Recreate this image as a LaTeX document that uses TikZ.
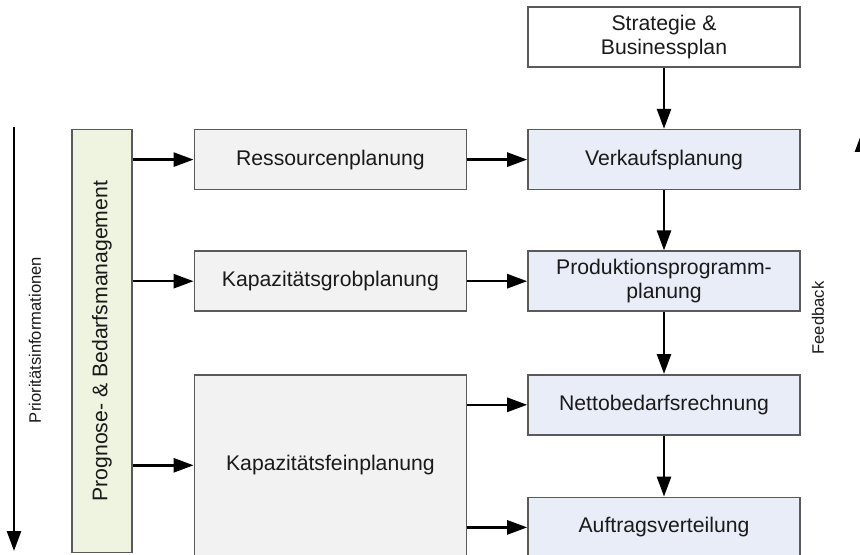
\documentclass[tikz,border=0pt]{standalone}
\usepackage{fontspec}
\setmainfont{Liberation Sans}
\usetikzlibrary{positioning, arrows.meta}
\definecolor{boxline}{HTML}{5A5A5A}
\definecolor{grayfill}{HTML}{F2F2F2}
\definecolor{bluefill}{HTML}{E9EDF7}
\definecolor{greenfill}{HTML}{EEF4E0}
\definecolor{txt}{HTML}{1A1A1A}

\begin{document}
\begin{tikzpicture}
\tikzset{block/.style={rectangle,draw=boxline,line width=0.8pt,text=txt,align=center,minimum width=136pt,minimum height=30pt,inner sep=2pt,font=\fontsize{10.6}{12.2}\selectfont},
  plan/.style={block,fill=grayfill},
  ctrl/.style={block,fill=bluefill},
  arr/.style={line width=1.3pt,-{Triangle[length=10pt,width=7pt]}},
  side/.style={text=txt,font=\fontsize{8.3}{10}\selectfont}}

\useasboundingbox (0,0) rectangle (430pt,-277.5pt);

  \node [block] (strategie) at (332pt,-18.5pt) {Strategie \&\\Businessplan};
  \node [ctrl, below=30.5pt of strategie] (verkauf) {Verkaufsplanung};
  \node [ctrl, below=30pt of verkauf] (produktion) {Produktionsprogramm-\\planung};
  \node [ctrl, below=31pt of produktion] (netto) {Nettobedarfsrechnung};
  \node [ctrl, below=30.5pt of netto] (auftrag) {Auftragsverteilung};

  \node [plan, left=30pt of verkauf] (ressourcen) {Ressourcenplanung};
  \node [plan, left=30pt of produktion] (grob) {Kapazitätsgrobplanung};
  \node [plan, minimum height=90.5pt, below left=0pt and 30pt of netto.north west] (fein) {Kapazitätsfeinplanung};

  \node [block, fill=greenfill, minimum width=30pt, minimum height=211.5pt, below left=0pt and 30.5pt of ressourcen.north west] (prognose) {\rotatebox{90}{Prognose- \& Bedarfsmanagement}};

\draw [arr] (strategie) -- (verkauf);
\draw [arr] (verkauf) -- (produktion);
\draw [arr] (produktion) -- (netto);
\draw [arr] (netto) -- (auftrag);

\draw [arr] (prognose.east |- ressourcen) -- (ressourcen);
\draw [arr] (prognose.east |- grob) -- (grob);
\draw [arr] (prognose.east |- fein) -- (fein);
\draw [arr] (ressourcen) -- (verkauf);
\draw [arr] (grob) -- (produktion);
\draw [arr] (fein.east |- netto) -- (netto);
\draw [arr] (fein.east |- auftrag) -- (auftrag);

% Prioritaet nach unten, Feedback nach oben
\coordinate (prio-start) at (7pt,-63.5pt);
\coordinate (prio-end) at (7pt,-275.5pt);
\draw [arr] (prio-start) -- (prio-end);
\node [side, rotate=90] (prio) at (17.5pt,-170pt) {Prioritätsinformationen};

\coordinate (fb-start) at (431pt,-275.5pt);
\coordinate (fb-end) at (431pt,-66pt);
\draw [arr] (fb-start) -- (fb-end);
\node [side, rotate=90] (feedback) at (409pt,-159pt) {Feedback};

\end{tikzpicture}
\end{document}
